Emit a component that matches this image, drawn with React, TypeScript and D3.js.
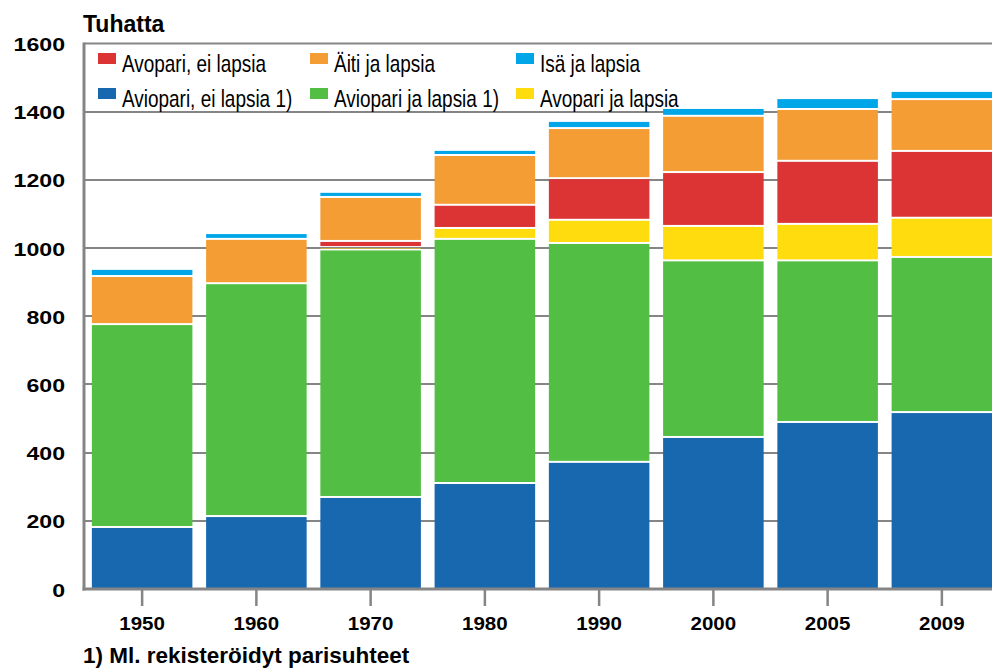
import React from "react";
import * as d3 from "d3";

// Thousands of families by type
const years = ["1950", "1960", "1970", "1980", "1990", "2000", "2005", "2009"];
const aviopariEiLapsia = [179, 211, 267, 308, 370, 443, 487, 516];
const aviopariJaLapsia = [595, 683, 726, 716, 642, 518, 474, 455];
const avopariJaLapsia = [0, 0, 7, 32, 68, 101, 107, 115];
const avopariEiLapsia = [0, 0, 18, 68, 122, 158, 185, 196];
const aitiJaLapsia = [141, 130, 129, 146, 147, 165, 152, 152];
const isaJaLapsia = [21, 17, 15, 15, 21, 23, 32, 24];

const yTicks = [0, 200, 400, 600, 800, 1000, 1200, 1400, 1600];

// stacking order, bottom to top
const SERIES = [
  { key: "aviEi", label: "Aviopari, ei lapsia 1)", color: "#1868b0", values: aviopariEiLapsia },
  { key: "aviJa", label: "Aviopari ja lapsia 1)", color: "#52be44", values: aviopariJaLapsia },
  { key: "avoJa", label: "Avopari ja lapsia", color: "#ffdc0e", values: avopariJaLapsia },
  { key: "avoEi", label: "Avopari, ei lapsia", color: "#dc3434", values: avopariEiLapsia },
  { key: "aiti", label: "Äiti ja lapsia", color: "#f39d34", values: aitiJaLapsia },
  { key: "isa", label: "Isä ja lapsia", color: "#00a6e8", values: isaJaLapsia },
];

// legend layout: two rows, three columns
const LEGEND_ROWS = [
  ["avoEi", "aiti", "isa"],
  ["aviEi", "aviJa", "avoJa"],
];

const W = 992;
const H = 668;
const GRAY = "#858585";
const FONT = "'Liberation Sans', Arial, sans-serif";

export default function App() {
  const left = 84;
  const top = 43.5;
  const bottom = 589;

  const rows = years.map((year, i) => {
    const r: Record<string, any> = { year };
    SERIES.forEach((s) => (r[s.key] = s.values[i]));
    return r;
  });
  const layers = d3.stack<any>().keys(SERIES.map((s) => s.key))(rows);

  const x = d3.scaleBand().domain(years).range([85, 999]).paddingInner(0.12).paddingOuter(0.06);
  const y = d3.scaleLinear().domain([0, 1600]).range([bottom, top]);

  const colX = [98, 310, 516];
  const rowY = [53, 88];

  return (
    <svg
      width={W}
      height={H}
      style={{ position: "fixed", left: 0, top: 0, background: "#fff" }}
    >
      <rect width={W} height={H} fill="#fff" />

      {/* grid */}
      {yTicks.filter((t) => t > 0 && t < 1600).map((t) => (
        <line key={t} x1={left} x2={W} y1={Math.round(y(t))} y2={Math.round(y(t))} stroke={GRAY} strokeWidth={2.2} />
      ))}
      <line x1={left} x2={W} y1={top} y2={top} stroke={GRAY} strokeWidth={2} />

      {/* bars */}
      {layers.map((layer, li) => (
        <g key={layer.key} fill={SERIES[li].color}>
          {layer.map((d, i) => {
            const v = d[1] - d[0];
            if (v <= 0) return null;
            const y1 = y(d[1]);
            const y0 = y(d[0]);
            const gap = d[0] > 0 ? 2 : 0;
            return (
              <rect
                key={i}
                x={x(years[i])}
                width={x.bandwidth()}
                y={y1}
                height={Math.max(0.5, y0 - y1 - gap)}
              />
            );
          })}
        </g>
      ))}

      {/* axes */}
      <line x1={left} x2={left} y1={top - 1} y2={bottom + 1.5} stroke={GRAY} strokeWidth={3} />
      <line x1={left - 1.5} x2={W} y1={bottom} y2={bottom} stroke={GRAY} strokeWidth={3} />

      {years.map((yr) => {
        const cx = (x(yr) as number) + x.bandwidth() / 2;
        return (
          <g key={yr}>
            <line x1={cx} x2={cx} y1={bottom} y2={606} stroke={GRAY} strokeWidth={2.5} />
            <text
              transform={`translate(${cx},630) scale(1.14,1)`}
              textAnchor="middle"
              fontFamily={FONT}
              fontWeight="bold"
              fontSize={18}
              fill="#000"
            >
              {yr}
            </text>
          </g>
        );
      })}

      {yTicks.map((t) => (
        <text
          key={t}
          transform={`translate(65,${y(t) + 7.5}) scale(1.25,1)`}
          textAnchor="end"
          fontFamily={FONT}
          fontWeight="bold"
          fontSize={18.5}
          fill="#000"
        >
          {t}
        </text>
      ))}

      <text x={83} y={32} fontFamily={FONT} fontWeight="bold" fontSize={23} fill="#000">
        Tuhatta
      </text>

      {/* legend */}
      {LEGEND_ROWS.map((row, ri) =>
        row.map((key, ci) => {
          const s = SERIES.find((d) => d.key === key)!;
          return (
            <g key={key} transform={`translate(${colX[ci]},${rowY[ri]})`}>
              <rect width={18} height={11} fill={s.color} />
              <text
                transform="translate(24,19) scale(0.79,1)"
                fontFamily={FONT}
                fontSize={24}
                fill="#000"
              >
                {s.label}
              </text>
            </g>
          );
        })
      )}

      <text x={83} y={663} fontFamily={FONT} fontWeight="bold" fontSize={22.5} fill="#000">
        1) Ml. rekisteröidyt parisuhteet
      </text>
    </svg>
  );
}
